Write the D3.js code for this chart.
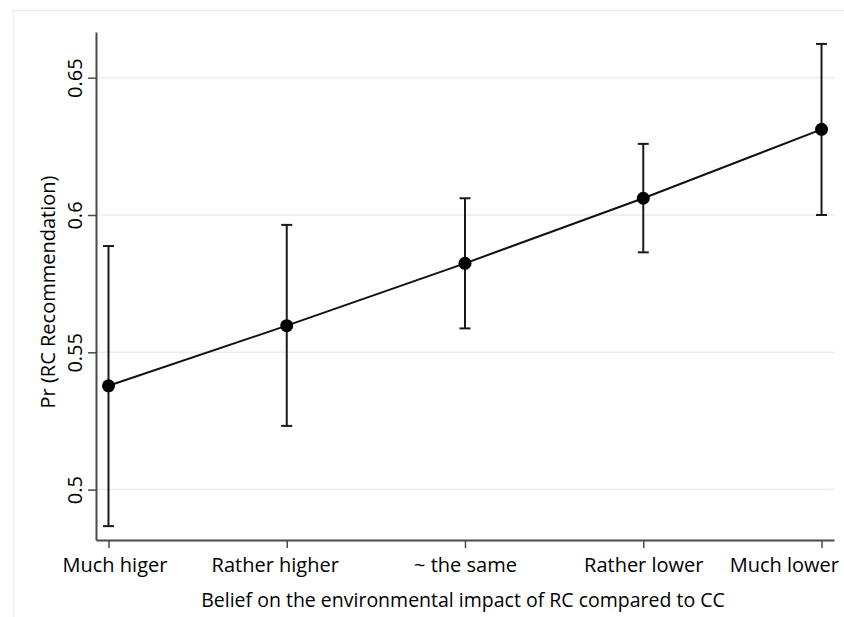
<!DOCTYPE html>
<html>
<head>
<meta charset="utf-8">
<script src="https://cdn.jsdelivr.net/npm/d3@7"></script>
<style>
  html, body { margin: 0; padding: 0; background: #fff; }
  svg { display: block; }
</style>
</head>
<body>
<div id="chart"></div>
<script>
// categories on the x axis
var categories = ["Much higer", "Rather higher", "~ the same", "Rather lower", "Much lower"];
// predicted probability and its confidence interval
var margins = [0.5378, 0.5597, 0.5824, 0.6061, 0.6312];
var lowerCI = [0.4867, 0.5232, 0.5587, 0.5864, 0.6000];
var upperCI = [0.5887, 0.5964, 0.6061, 0.6259, 0.6623];
var yTicks = [0.5, 0.55, 0.6, 0.65];
var yTickLabels = ["0.5", "0.55", "0.6", "0.65"];

var width = 844,
	height = 617,
	font = "'Open Sans', sans-serif",
	fontSize = 20;

var svg = d3.select("#chart").append("svg")
	.attr("width", width)
	.attr("height", height)
	.attr("font-family", font);

// outer frame of the graph region
svg.append("rect")
	.attr("x", 13.5)
	.attr("y", 10.5)
	.attr("width", width)
	.attr("height", height)
	.attr("fill", "#fff")
	.attr("stroke", "#e6eff4")
	.attr("stroke-width", 1.5);

var x = d3.scaleLinear()
	.domain([-0.07, categories.length - 1 + 0.07])
	.range([96, 834]);

var y = d3.scaleLinear()
	.domain([0.48165, 0.66664])
	.range([540, 32]);

// gridlines
svg.append("g")
	.selectAll("line")
	.data(yTicks)
	.join("line")
	.attr("x1", x.range()[0])
	.attr("x2", x.range()[1])
	.attr("y1", function (d) { return y(d); })
	.attr("y2", function (d) { return y(d); })
	.attr("stroke", "#e4eef2")
	.attr("stroke-width", 1.5);

// y axis
var yAxis = svg.append("g")
	.attr("transform", "translate(96,0)")
	.call(d3.axisLeft(y)
		.tickValues(yTicks)
		.tickFormat(function (d, i) { return yTickLabels[i]; })
		.tickSize(8)
		.tickSizeOuter(0));

yAxis.select(".domain").attr("stroke", "#4a4a4a").attr("stroke-width", 2);
yAxis.selectAll(".tick line").attr("stroke", "#4a4a4a").attr("stroke-width", 1.5);
yAxis.selectAll(".tick text")
	.attr("font-size", fontSize)
	.attr("font-family", font)
	.attr("fill", "#000")
	.attr("text-anchor", "middle")
	.attr("transform", "rotate(-90)")
	.attr("x", 0)
	.attr("y", -14)
	.attr("dy", 0);

// x axis
var xAxis = svg.append("g")
	.attr("transform", "translate(0,540)")
	.call(d3.axisBottom(x)
		.tickValues(d3.range(categories.length))
		.tickFormat(function (d) { return categories[d]; })
		.tickSize(8)
		.tickSizeOuter(0)
		.tickPadding(10));

xAxis.select(".domain").attr("stroke", "#4a4a4a").attr("stroke-width", 2);
xAxis.selectAll(".tick line").attr("stroke", "#4a4a4a").attr("stroke-width", 1.5);
xAxis.selectAll(".tick text")
	.attr("font-size", fontSize)
	.attr("font-family", font)
	.attr("fill", "#000");
// keep the end labels inside the frame, as the original does
xAxis.selectAll(".tick text")
	.filter(function (d) { return d === categories.length - 1; })
	.attr("text-anchor", "end")
	.attr("dx", 17);
xAxis.selectAll(".tick text")
	.filter(function (d) { return d === 0; })
	.attr("dx", 6);
xAxis.selectAll(".tick text")
	.filter(function (d) { return d === 1; })
	.attr("dx", -12);

// axis titles
svg.append("text")
	.attr("transform", "translate(55,292) rotate(-90)")
	.attr("text-anchor", "middle")
	.attr("font-size", fontSize)
	.attr("fill", "#000")
	.text("Pr (RC Recommendation)");

svg.append("text")
	.attr("x", 463)
	.attr("y", 607)
	.attr("text-anchor", "middle")
	.attr("font-size", 19.5)
	.attr("fill", "#000")
	.text("Belief on the environmental impact of RC compared to CC");

// error bars
var bars = svg.append("g")
	.selectAll("g")
	.data(categories)
	.join("g");

bars.append("line")
	.attr("x1", function (d, i) { return x(i); })
	.attr("x2", function (d, i) { return x(i); })
	.attr("y1", function (d, i) { return y(lowerCI[i]); })
	.attr("y2", function (d, i) { return y(upperCI[i]); })
	.attr("stroke", "#1a1a1a")
	.attr("stroke-width", 2);

[lowerCI, upperCI].forEach(function (arr) {
	bars.append("line")
		.attr("x1", function (d, i) { return x(i) - 5.5; })
		.attr("x2", function (d, i) { return x(i) + 5.5; })
		.attr("y1", function (d, i) { return y(arr[i]); })
		.attr("y2", function (d, i) { return y(arr[i]); })
		.attr("stroke", "#1a1a1a")
		.attr("stroke-width", 2);
});

// connecting line
var line = d3.line()
	.x(function (d, i) { return x(i); })
	.y(function (d) { return y(d); });

svg.append("path")
	.datum(margins)
	.attr("d", line)
	.attr("fill", "none")
	.attr("stroke", "#111")
	.attr("stroke-width", 2);

// points
svg.append("g")
	.selectAll("circle")
	.data(margins)
	.join("circle")
	.attr("cx", function (d, i) { return x(i); })
	.attr("cy", function (d) { return y(d); })
	.attr("r", 6.5)
	.attr("fill", "#000");
</script>
</body>
</html>
